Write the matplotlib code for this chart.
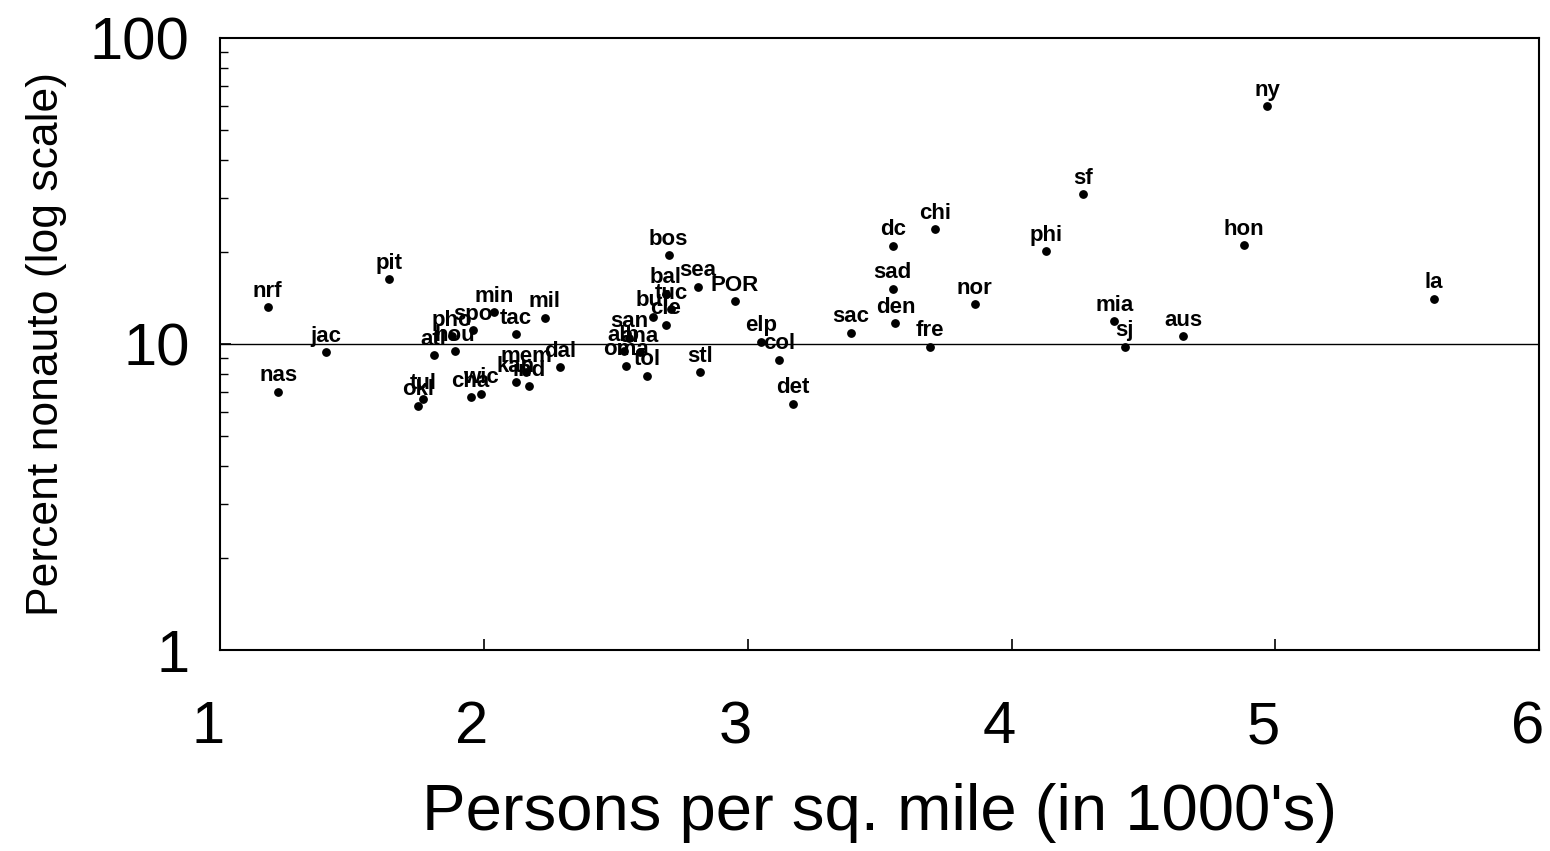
import matplotlib
matplotlib.use("Agg")
from matplotlib import pyplot as plt
from matplotlib.ticker import FixedLocator, LogLocator, NullFormatter
from matplotlib.transforms import ScaledTranslation

plt.rcParams['font.family'] = ['Liberation Sans', 'DejaVu Sans']

# city code, density (1000 persons per sq. mile), percent of commuters not using autos
cities = ["nrf", "nas", "jac", "pit", "atl", "pho", "hou", "spo", "min", "tac",
          "mil", "okl", "tul", "cha", "wic", "kan", "ind", "mem", "dal", "oma",
          "tol", "san", "alb", "ana", "bos", "bal", "sea", "tuc", "buf", "cle",
          "POR", "stl", "elp", "col", "det", "sac", "den", "fre", "chi", "dc",
          "sad", "nor", "phi", "mia", "sj", "ny", "sf", "hon", "la", "aus"]
density = [1.18, 1.22, 1.40, 1.64, 1.81, 1.88, 1.89, 1.96, 2.04, 2.12,
           2.23, 1.75, 1.77, 1.95, 1.99, 2.12, 2.17, 2.16, 2.29, 2.54,
           2.62, 2.55, 2.53, 2.59, 2.70, 2.69, 2.81, 2.71, 2.64, 2.69,
           2.95, 2.82, 3.05, 3.12, 3.17, 3.39, 3.56, 3.69, 3.71, 3.55,
           3.55, 3.86, 4.13, 4.39, 4.43, 4.97, 4.27, 4.88, 5.60, 4.65]
nonauto = [13.2, 7.0, 9.4, 16.3, 9.2, 10.6, 9.5, 11.1, 12.7, 10.8,
           12.2, 6.3, 6.6, 6.7, 6.9, 7.5, 7.3, 8.1, 8.4, 8.5,
           7.9, 10.5, 9.5, 9.4, 19.5, 14.6, 15.4, 13.0, 12.3, 11.6,
           13.8, 8.1, 10.2, 8.9, 6.4, 10.9, 11.7, 9.8, 23.8, 21.0,
           15.2, 13.5, 20.1, 11.9, 9.8, 59.9, 30.9, 21.1, 14.1, 10.6]

fig = plt.figure(figsize=(15.5, 8.51), dpi=100)
ax = fig.add_axes([0.142, 0.236, 0.851, 0.719])

ax.scatter(density, nonauto, s=28, c='k', zorder=3)
for name, x, y in zip(cities, density, nonauto):
    ax.annotate(name, (x, y), xytext=(0, 11.5), textcoords='offset points',
                ha='center', va='center', fontsize=16, fontweight='bold')

ax.axhline(10, color='k', lw=1.0, zorder=1)

ax.set_yscale('log')
ax.set_xlim(1, 6)
ax.set_ylim(1, 100)
ax.xaxis.set_major_locator(FixedLocator([1, 2, 3, 4, 5, 6]))
ax.yaxis.set_major_locator(FixedLocator([1, 10, 100]))
ax.yaxis.set_minor_locator(LogLocator(base=10, subs=range(2, 10)))
ax.yaxis.set_minor_formatter(NullFormatter())
ax.set_yticklabels(["1", "10", "100"])

ax.tick_params(axis='both', which='major', direction='in', length=8, width=1.2,
               labelsize=43, top=False, right=False)
ax.tick_params(axis='x', which='major', pad=36)
ax.tick_params(axis='y', which='major', pad=22)
ax.tick_params(axis='y', which='minor', direction='in', length=6, width=1.0)
for spine in ax.spines.values():
    spine.set_linewidth(1.5)

# x tick numbers sit a little left of their ticks
shift = ScaledTranslation(-0.12, 0, fig.dpi_scale_trans)
for lab in ax.get_xticklabels():
    lab.set_transform(lab.get_transform() + shift)

ax.set_xlabel("Persons per sq. mile (in 1000's)", fontsize=47, labelpad=20)
ax.set_ylabel("Percent nonauto (log scale)", fontsize=32, labelpad=16)

fig.savefig("out.png", dpi=100)
